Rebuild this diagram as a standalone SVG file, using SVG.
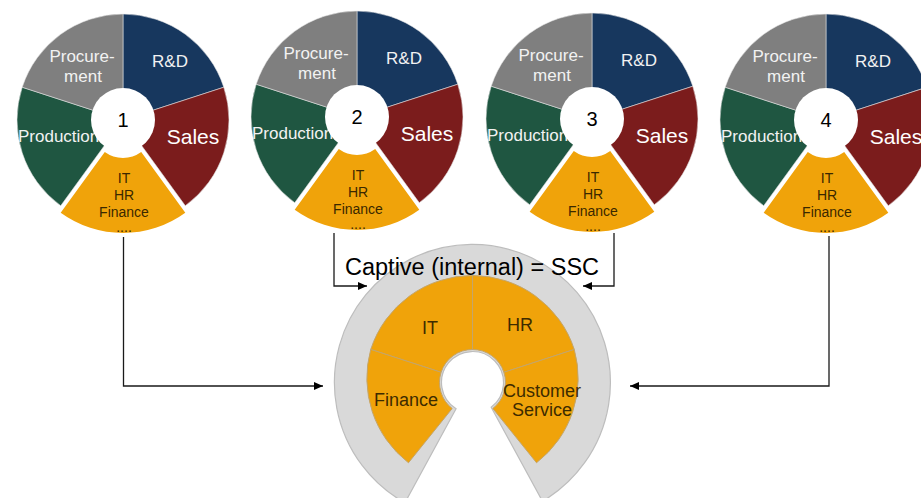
<svg xmlns="http://www.w3.org/2000/svg" width="921" height="498" viewBox="0 0 921 498">
<style>
text{font-family:"Liberation Sans",Arial,sans-serif}
.sl{stroke:#e6e6e6;stroke-width:0.8;stroke-opacity:0.7}
.proc{fill:#7f7f7f}
.rd{fill:#17375e}
.sales{fill:#7b1c1c}
.prod{fill:#1f5641}
.or{fill:#f0a30a}
.hole{fill:#ffffff}
.wl{fill:#f2f2f2;font-size:17px;text-anchor:middle}
.sa{fill:#ffffff;font-size:21px;text-anchor:middle}
.pr{fill:#f2f2f2;font-size:17px}
.num{fill:#000000;font-size:20px;text-anchor:middle}
.ot{fill:#3a2800;font-size:14px;text-anchor:middle}
.seg{fill:#f0a30a;stroke:#c4a56a;stroke-width:1}
.st{fill:#3d2b00;font-size:18px;text-anchor:middle}
.con{fill:none;stroke:#1a1a1a;stroke-width:1.3}
</style>
<defs>
<marker id="arr" markerUnits="userSpaceOnUse" markerWidth="10" markerHeight="9" refX="9" refY="4" orient="auto">
<path d="M0,0 L9,4 L0,8 Z" fill="#000000"/>
</marker>
</defs>

<g id="ssc" transform="translate(472.5,382.5)">
<path d="M-67.6,120.3 A138,138 0 1 1 70.0,118.8 L18.66,24.76 A31,31 0 1 0 -16.43,26.29 Z" fill="#d9d9d9" stroke="#bdbdbd" stroke-width="1.2"/>
<path class="seg" d="M-31.38,-10.20 L-101.76,-33.07 A107,107 0 0 1 0,-107 L0,-33 A33,33 0 0 0 -31.38,-10.20 Z"/>
<path class="seg" d="M0,-33 L0,-107 A107,107 0 0 1 101.76,-33.07 L31.38,-10.20 A33,33 0 0 0 0,-33 Z"/>
<path class="seg" d="M31.38,-10.20 L101.76,-33.07 A107,107 0 0 1 64.03,80.25 L20.32,26.00 A33,33 0 0 0 31.38,-10.20 Z"/>
<path class="seg" d="M-20.32,26.00 L-64.03,80.25 A107,107 0 0 1 -101.76,-33.07 L-31.38,-10.20 A33,33 0 0 0 -20.32,26.00 Z"/>
</g>
<g id="ssc-labels">
<text x="345" y="275" style="font-size:23.5px;fill:#000000">Captive (internal) = SSC</text>
<text class="st" x="430" y="334">IT</text>
<text class="st" x="520" y="331">HR</text>
<text class="st" x="406" y="406">Finance</text>
<text class="st" x="542" y="397">Customer</text>
<text class="st" x="542" y="416">Service</text>
</g>

<g id="company1" transform="translate(123,120)">
<path class="rd sl" d="M0,0 L0,-106 A106,106 0 0 1 100.81,-32.76 Z"/>
<path class="sales sl" d="M0,0 L100.81,-32.76 A106,106 0 0 1 62.31,85.76 Z"/>
<path class="prod sl" d="M0,0 L-62.31,85.76 A106,106 0 0 1 -100.81,-32.76 Z"/>
<path class="proc sl" d="M0,0 L-100.81,-32.76 A106,106 0 0 1 0,-106 Z"/>
<path class="or" d="M18.22,32.08 L62.31,92.76 A106,106 0 0 1 -62.31,92.76 L-18.22,32.08 A31,31 0 0 0 18.22,32.08 Z"/>
<text class="wl" x="-41" y="-58">Procure-</text>
<text class="wl" x="-40" y="-38">ment</text>
<text class="wl" x="47" y="-53">R&amp;D</text>
<text class="sa" x="70" y="24">Sales</text>
<text class="pr" x="-105" y="22">Production</text>
<circle class="hole" cx="0" cy="0" r="32"/>
<text class="num" x="0" y="7">1</text>
<text class="ot" x="1" y="63">IT</text>
<text class="ot" x="1" y="80">HR</text>
<text class="ot" x="1" y="97">Finance</text>
<text class="ot" x="1" y="112">....</text>
</g>

<g id="company2" transform="translate(357,117)">
<path class="rd sl" d="M0,0 L0,-106 A106,106 0 0 1 100.81,-32.76 Z"/>
<path class="sales sl" d="M0,0 L100.81,-32.76 A106,106 0 0 1 62.31,85.76 Z"/>
<path class="prod sl" d="M0,0 L-62.31,85.76 A106,106 0 0 1 -100.81,-32.76 Z"/>
<path class="proc sl" d="M0,0 L-100.81,-32.76 A106,106 0 0 1 0,-106 Z"/>
<path class="or" d="M18.22,32.08 L62.31,92.76 A106,106 0 0 1 -62.31,92.76 L-18.22,32.08 A31,31 0 0 0 18.22,32.08 Z"/>
<text class="wl" x="-41" y="-58">Procure-</text>
<text class="wl" x="-40" y="-38">ment</text>
<text class="wl" x="47" y="-53">R&amp;D</text>
<text class="sa" x="70" y="24">Sales</text>
<text class="pr" x="-105" y="22">Production</text>
<circle class="hole" cx="0" cy="0" r="32"/>
<text class="num" x="0" y="7">2</text>
<text class="ot" x="1" y="63">IT</text>
<text class="ot" x="1" y="80">HR</text>
<text class="ot" x="1" y="97">Finance</text>
<text class="ot" x="1" y="112">....</text>
</g>

<g id="company3" transform="translate(592,119)">
<path class="rd sl" d="M0,0 L0,-106 A106,106 0 0 1 100.81,-32.76 Z"/>
<path class="sales sl" d="M0,0 L100.81,-32.76 A106,106 0 0 1 62.31,85.76 Z"/>
<path class="prod sl" d="M0,0 L-62.31,85.76 A106,106 0 0 1 -100.81,-32.76 Z"/>
<path class="proc sl" d="M0,0 L-100.81,-32.76 A106,106 0 0 1 0,-106 Z"/>
<path class="or" d="M18.22,32.08 L62.31,92.76 A106,106 0 0 1 -62.31,92.76 L-18.22,32.08 A31,31 0 0 0 18.22,32.08 Z"/>
<text class="wl" x="-41" y="-58">Procure-</text>
<text class="wl" x="-40" y="-38">ment</text>
<text class="wl" x="47" y="-53">R&amp;D</text>
<text class="sa" x="70" y="24">Sales</text>
<text class="pr" x="-105" y="22">Production</text>
<circle class="hole" cx="0" cy="0" r="32"/>
<text class="num" x="0" y="7">3</text>
<text class="ot" x="1" y="63">IT</text>
<text class="ot" x="1" y="80">HR</text>
<text class="ot" x="1" y="97">Finance</text>
<text class="ot" x="1" y="112">....</text>
</g>

<g id="company4" transform="translate(826,120)">
<path class="rd sl" d="M0,0 L0,-106 A106,106 0 0 1 100.81,-32.76 Z"/>
<path class="sales sl" d="M0,0 L100.81,-32.76 A106,106 0 0 1 62.31,85.76 Z"/>
<path class="prod sl" d="M0,0 L-62.31,85.76 A106,106 0 0 1 -100.81,-32.76 Z"/>
<path class="proc sl" d="M0,0 L-100.81,-32.76 A106,106 0 0 1 0,-106 Z"/>
<path class="or" d="M18.22,32.08 L62.31,92.76 A106,106 0 0 1 -62.31,92.76 L-18.22,32.08 A31,31 0 0 0 18.22,32.08 Z"/>
<text class="wl" x="-41" y="-58">Procure-</text>
<text class="wl" x="-40" y="-38">ment</text>
<text class="wl" x="47" y="-53">R&amp;D</text>
<text class="sa" x="70" y="24">Sales</text>
<text class="pr" x="-105" y="22">Production</text>
<circle class="hole" cx="0" cy="0" r="32"/>
<text class="num" x="0" y="7">4</text>
<text class="ot" x="1" y="63">IT</text>
<text class="ot" x="1" y="80">HR</text>
<text class="ot" x="1" y="97">Finance</text>
<text class="ot" x="1" y="112">....</text>
</g>

<g id="connectors">
<path class="con" d="M123.5,237 V386 H323" marker-end="url(#arr)"/>
<path class="con" d="M334,233 V286 H367" marker-end="url(#arr)"/>
<path class="con" d="M614,233 V286 H583" marker-end="url(#arr)"/>
<path class="con" d="M829,236 V386 H630" marker-end="url(#arr)"/>
</g>
</svg>
